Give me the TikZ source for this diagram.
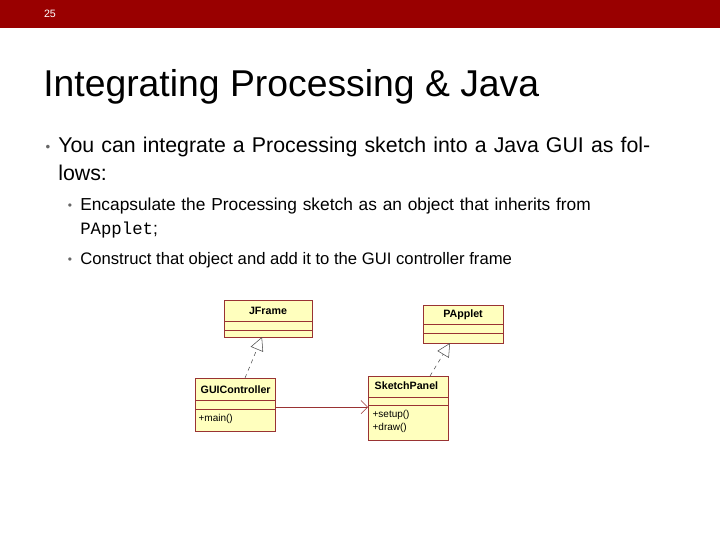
\documentclass[tikz,border=0pt]{standalone}
\usepackage{fontspec}
\setmainfont{Liberation Sans}
\setmonofont{Liberation Mono}
\usetikzlibrary{positioning,arrows.meta}
\definecolor{barred}{RGB}{153,0,0}
\definecolor{umlfill}{RGB}{255,255,190}
\definecolor{umlline}{RGB}{153,51,51}
\tikzset{
  umlbox/.style={draw=umlline,fill=umlfill,line width=0.6pt},
  umlname/.style={font=\fontsize{8}{9}\selectfont\bfseries,anchor=west},
  umlop/.style={font=\fontsize{7.5}{8.5}\selectfont,anchor=west,inner sep=1pt},
  inherit/.style={draw=black!70,dashed,-{Triangle[open,length=10pt,width=10pt]}},
  assoc/.style={draw=umlline,->,>={Straight Barb[length=5pt]}}
}
\begin{document}
\begin{tikzpicture}[x=0.75pt,y=-0.75pt]
\useasboundingbox (0,0) rectangle (720,540);
\fill[barred] (0,0) rectangle (720,28);
\node[text=white,font=\fontsize{8}{9}\selectfont] (num) at (50,14) {25};
\node[anchor=base west,inner sep=0,font=\fontsize{28}{32}\selectfont] (title) at (43,96) {Integrating Processing \& Java};

\node[anchor=base west,inner sep=0,text width=462pt,align=left,font=\fontsize{16}{21}\selectfont] (b1) at (58,152)
  {You can integrate a Processing sketch into a Java GUI as follows:};
\node[anchor=base,font=\fontsize{10}{12}\selectfont,text=black!60] at (48,151) {•};
\node[anchor=base west,inner sep=0,text width=440pt,align=left,font=\fontsize{13}{18}\selectfont] (b2) at (80,210)
  {Encapsulate the Processing sketch as an object that inherits from \texttt{PApplet};};
\node[anchor=base,font=\fontsize{9}{12}\selectfont,text=black!60] at (70,209) {•};
\node[anchor=base west,inner sep=0,font=\fontsize{12.5}{15}\selectfont] (b3) at (80,264)
  {Construct that object and add it to the GUI controller frame};
\node[anchor=base,font=\fontsize{9}{12}\selectfont,text=black!60] at (70,263) {•};

% classes
\draw[umlbox] (224,300) rectangle (312,337);
\draw[umlline] (224,321) -- (312,321) (224,330) -- (312,330);
\node[umlname,anchor=center] (jframe) at (268,311) {JFrame};
\coordinate (jframeb) at (262,337);

\draw[umlbox] (423,305) rectangle (503,343);
\draw[umlline] (423,324) -- (503,324) (423,333) -- (503,333);
\node[umlname,anchor=center] (papplet) at (463,315) {PApplet};
\coordinate (pappletb) at (450,343);

\draw[umlbox] (195,378) rectangle (275,431);
\draw[umlline] (195,400) -- (275,400) (195,409) -- (275,409);
\node[umlname] (gui) at (196,390) {GUIController};
\node[umlop] (main) at (197,419) {+main()};
\coordinate (guit) at (245,378);
\coordinate (guir) at (275,407);

\draw[umlbox] (368,376) rectangle (448,440);
\draw[umlline] (368,397) -- (448,397) (368,405) -- (448,405);
\node[umlname] (sketch) at (370,386) {SketchPanel};
\node[umlop] (setup) at (371,415) {+setup()};
\node[umlop] (draw) at (371,428) {+draw()};
\coordinate (sketcht) at (430,376);
\coordinate (sketchl) at (368,407);

\draw[inherit] (guit) -- (jframeb);
\draw[inherit] (sketcht) -- (pappletb);
\draw[assoc] (guir) -- (sketchl);
\end{tikzpicture}
\end{document}
